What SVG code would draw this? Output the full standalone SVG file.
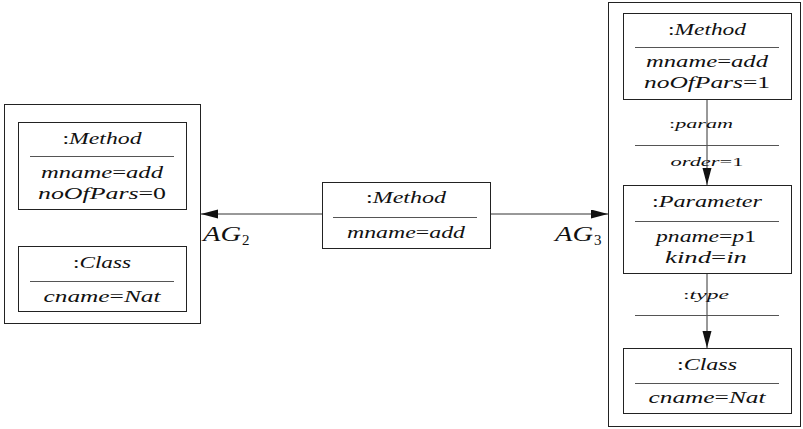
<svg xmlns="http://www.w3.org/2000/svg" width="803" height="429" viewBox="0 0 803 429">
  <style>
    .frame { fill: #fff; stroke: #222; stroke-width: 1; }
    .node { fill: #fff; stroke: #222; stroke-width: 1; }
    .sep { stroke: #555; stroke-width: 1; }
    .edge { stroke: #333; stroke-width: 1; fill: none; }
    text { font-family: "Liberation Serif", "DejaVu Serif", serif; font-style: italic; fill: #111; text-anchor: middle; }
    .lbl { font-size: 16px; }
    .small { font-size: 13px; }
    .ag { font-size: 22px; text-anchor: start; }
    .sub { font-size: 15px; font-style: normal; text-anchor: start; }
    .rm { font-style: normal; }
  </style>
  <defs>
    <marker id="arrow" markerUnits="userSpaceOnUse" markerWidth="18" markerHeight="10" refX="17" refY="4.5" orient="auto">
      <path d="M0,0 L17,4.5 L0,9 z" fill="#111"/>
    </marker>
  </defs>

  <!-- application graph frames -->
  <rect id="frame-ag2" class="frame" x="4.5" y="104.5" width="196" height="219"/>
  <rect id="frame-ag3" class="frame" x="608.5" y="2.5" width="192" height="424"/>

  <!-- connectors -->
  <g id="connectors">
    <line class="edge" x1="322" y1="214" x2="201" y2="214" marker-end="url(#arrow)"/>
    <line class="edge" x1="491" y1="214" x2="608" y2="214" marker-end="url(#arrow)"/>
    <line class="edge" x1="707" y1="100" x2="707" y2="185" marker-end="url(#arrow)"/>
    <line class="edge" x1="707" y1="274" x2="707" y2="348" marker-end="url(#arrow)"/>
    <!-- edge label: param -->
    <g id="edge-param">
      <line class="sep" x1="635" y1="145.5" x2="779" y2="145.5"/>
      <text class="small" x="701" y="128" textLength="64" lengthAdjust="spacingAndGlyphs"><tspan class="rm">:</tspan>param</text>
      <text class="small" x="707" y="166" textLength="73" lengthAdjust="spacingAndGlyphs">order<tspan class="rm">=1</tspan></text>
    </g>
    <!-- edge label: type -->
    <g id="edge-type">
      <line class="sep" x1="635" y1="315.5" x2="779" y2="315.5"/>
      <text class="small" x="706" y="299" textLength="46" lengthAdjust="spacingAndGlyphs"><tspan class="rm">:</tspan>type</text>
    </g>
    <text class="ag" x="203" y="241" textLength="38" lengthAdjust="spacingAndGlyphs">AG</text>
    <text class="sub" x="242" y="245">2</text>
    <text class="ag" x="555" y="241" textLength="38" lengthAdjust="spacingAndGlyphs">AG</text>
    <text class="sub" x="594" y="245">3</text>
  </g>

  <!-- left graph -->
  <g id="method-left">
    <rect class="node" x="18.5" y="122.5" width="168" height="87"/>
    <line class="sep" x1="30" y1="156.5" x2="174" y2="156.5"/>
    <text class="lbl" x="102" y="144" textLength="79" lengthAdjust="spacingAndGlyphs"><tspan class="rm">:</tspan>Method</text>
    <text class="lbl" x="102" y="178" textLength="122" lengthAdjust="spacingAndGlyphs">mname<tspan class="rm">=</tspan>add</text>
    <text class="lbl" x="102" y="199" textLength="128" lengthAdjust="spacingAndGlyphs">noOfPars<tspan class="rm">=0</tspan></text>
  </g>
  <g id="class-left">
    <rect class="node" x="18.5" y="246.5" width="168" height="65"/>
    <line class="sep" x1="30" y1="281.5" x2="174" y2="281.5"/>
    <text class="lbl" x="102" y="268" textLength="58" lengthAdjust="spacingAndGlyphs"><tspan class="rm">:</tspan>Class</text>
    <text class="lbl" x="102" y="302" textLength="117" lengthAdjust="spacingAndGlyphs">cname<tspan class="rm">=</tspan>Nat</text>
  </g>

  <!-- middle node -->
  <g id="method-mid">
    <rect class="node" x="322.5" y="182.5" width="168" height="66"/>
    <line class="sep" x1="333" y1="217.5" x2="477" y2="217.5"/>
    <text class="lbl" x="406" y="203" textLength="80" lengthAdjust="spacingAndGlyphs"><tspan class="rm">:</tspan>Method</text>
    <text class="lbl" x="406" y="238" textLength="118" lengthAdjust="spacingAndGlyphs">mname<tspan class="rm">=</tspan>add</text>
  </g>

  <!-- right graph -->
  <g id="method-right">
    <rect class="node" x="623.5" y="13.5" width="168" height="86"/>
    <line class="sep" x1="635" y1="47.5" x2="779" y2="47.5"/>
    <text class="lbl" x="707" y="35" textLength="78" lengthAdjust="spacingAndGlyphs"><tspan class="rm">:</tspan>Method</text>
    <text class="lbl" x="707" y="67" textLength="122" lengthAdjust="spacingAndGlyphs">mname<tspan class="rm">=</tspan>add</text>
    <text class="lbl" x="707" y="88" textLength="126" lengthAdjust="spacingAndGlyphs">noOfPars<tspan class="rm">=1</tspan></text>
  </g>
  <g id="parameter-right">
    <rect class="node" x="623.5" y="185.5" width="168" height="88"/>
    <line class="sep" x1="635" y1="221.5" x2="779" y2="221.5"/>
    <text class="lbl" x="707" y="207" textLength="110" lengthAdjust="spacingAndGlyphs"><tspan class="rm">:</tspan>Parameter</text>
    <text class="lbl" x="706" y="242" textLength="100" lengthAdjust="spacingAndGlyphs">pname<tspan class="rm">=</tspan>p<tspan class="rm">1</tspan></text>
    <text class="lbl" x="706" y="263" textLength="82" lengthAdjust="spacingAndGlyphs">kind<tspan class="rm">=</tspan>in</text>
  </g>
  <g id="class-right">
    <rect class="node" x="623.5" y="348.5" width="168" height="65"/>
    <line class="sep" x1="635" y1="383.5" x2="779" y2="383.5"/>
    <text class="lbl" x="707" y="370" textLength="60" lengthAdjust="spacingAndGlyphs"><tspan class="rm">:</tspan>Class</text>
    <text class="lbl" x="707" y="403" textLength="117" lengthAdjust="spacingAndGlyphs">cname<tspan class="rm">=</tspan>Nat</text>
  </g>
</svg>
